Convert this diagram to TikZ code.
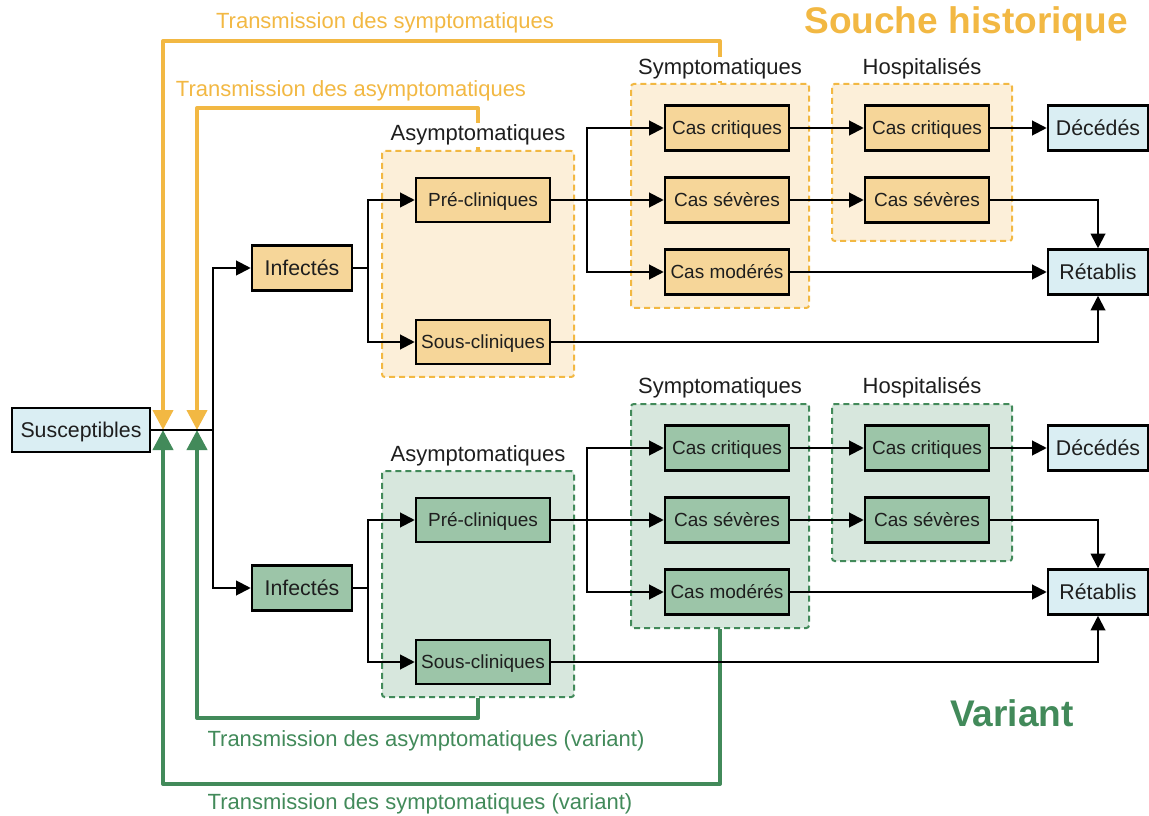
\documentclass[tikz,border=0pt]{standalone}
\usepackage{fontspec}
\setmainfont{Liberation Sans}
\usetikzlibrary{arrows.meta}
\definecolor{orangeline}{HTML}{F2B843}
\definecolor{orangefill}{HTML}{F6D699}
\definecolor{orangebg}{HTML}{FCEFD9}
\definecolor{greenline}{HTML}{428A5A}
\definecolor{greenfill}{HTML}{9CC5A8}
\definecolor{greenbg}{HTML}{D7E7DD}
\definecolor{bluefill}{HTML}{DAEEF3}
\definecolor{txt}{HTML}{1E1E1E}
\tikzset{
  box/.style={draw=black, line width=1.9pt, inner sep=0pt, text=txt, text depth=0pt},
  smallbox/.style={box, minimum width=93pt, minimum height=33.75pt, text height=10.3pt, font=\fontsize{14.25}{16}\selectfont},
  widebox/.style={box, minimum width=100.5pt, minimum height=33pt, text height=10.3pt, font=\fontsize{14.25}{16}\selectfont},
  bigbox/.style={box, minimum width=75pt, minimum height=33.75pt, text height=11.5pt, font=\fontsize{16}{18}\selectfont},
  obox/.style={fill=orangefill},
  gbox/.style={fill=greenfill},
  bbox/.style={fill=bluefill},
  grp/.style={line width=1.5pt, dash pattern=on 4.5pt off 3pt, rounded corners=2pt, inner sep=0pt},
  ogroup/.style={grp, draw=orangeline, fill=orangebg},
  ggroup/.style={grp, draw=greenline, fill=greenbg},
  glabel/.style={font=\fontsize{16.5}{18}\selectfont, text=txt, fill=white, inner sep=1pt},
  tlabel/.style={font=\fontsize{16.5}{18}\selectfont, inner sep=0pt},
  arr/.style={line width=1.5pt, draw=black, -{Triangle[length=11pt,width=11pt]}},
  otrans/.style={line width=3pt, draw=orangeline, line join=round, -{Triangle[length=15pt,width=15pt]}},
  gtrans/.style={line width=3pt, draw=greenline, line join=round, -{Triangle[length=15pt,width=15pt]}},
  titletext/.style={font=\bfseries\fontsize{27.8}{30}\selectfont, inner sep=0pt},
}
\begin{document}
\begin{tikzpicture}[x=0.75pt,y=-0.75pt]
\useasboundingbox (0,0) rectangle (1149,816);

% groups
\node[ogroup, minimum width=144pt, minimum height=169.5pt] (asym1) at (478,264) {};
\node[ogroup, minimum width=133.5pt, minimum height=168pt] (sym1) at (720,196) {};
\node[ogroup, minimum width=135pt, minimum height=117.75pt] (hosp1) at (922,162.5) {};
\node[ggroup, minimum width=144pt, minimum height=169.5pt] (asym2) at (478,584) {};
\node[ggroup, minimum width=133.5pt, minimum height=168pt] (sym2) at (720,516) {};
\node[ggroup, minimum width=135pt, minimum height=117.75pt] (hosp2) at (922,482.5) {};

% coordinates
\coordinate (jo) at (163,430);
\coordinate (ji) at (197,430);
\coordinate (split) at (213,430);
\coordinate (ot1) at (163,41);
\coordinate (ot2) at (197,108);
\coordinate (gt1) at (163,784);
\coordinate (gt2) at (197,718);

% transmission lines
\draw[otrans] (sym1.north) |- (ot1) -- (jo);
\draw[otrans] (asym1.north) |- (ot2) -- (ji);
\draw[gtrans] (sym2.south) |- (gt1) -- (jo);
\draw[gtrans] (asym2.south) |- (gt2) -- (ji);

% group labels
\node[glabel] (lasym1) at (478,135) {Asymptomatiques};
\node[glabel] (lsym1) at (720,69) {Symptomatiques};
\node[glabel] (lhosp1) at (922,69) {Hospitalisés};
\node[glabel] (lasym2) at (478,456) {Asymptomatiques};
\node[glabel] (lsym2) at (720,388) {Symptomatiques};
\node[glabel] (lhosp2) at (922,388) {Hospitalisés};

% transmission labels
\node[tlabel, text=orangeline] (t1) at (385,23) {Transmission des symptomatiques};
\node[tlabel, text=orangeline] (t2) at (351,91) {Transmission des asymptomatiques};
\node[tlabel, text=greenline] (t3) at (426,741) {Transmission des asymptomatiques (variant)};
\node[tlabel, text=greenline] (t4) at (420,804) {Transmission des symptomatiques (variant)};

% titles
\node[titletext, text=orangeline] (title1) at (966,24) {Souche historique};
\node[titletext, text=greenline] (title2) at (1012,713) {Variant};

% nodes
\node[box, bbox, minimum width=103.5pt, minimum height=33pt, text height=11.5pt, font=\fontsize{16}{18}\selectfont] (sus) at (81,430) {Susceptibles};

\node[bigbox, obox] (inf1) at (302,268) {Infectés};
\node[widebox, obox] (pre1) at (483,200) {Pré-cliniques};
\node[widebox, obox] (sous1) at (483,342) {Sous-cliniques};
\node[smallbox, obox] (crit1) at (727,128) {Cas critiques};
\node[smallbox, obox] (sev1) at (727,200) {Cas sévères};
\node[smallbox, obox] (mod1) at (727,272) {Cas modérés};
\node[smallbox, obox] (hcrit1) at (927,128) {Cas critiques};
\node[smallbox, obox] (hsev1) at (927,200) {Cas sévères};
\node[bigbox, bbox] (dec1) at (1098,128) {Décédés};
\node[bigbox, bbox] (ret1) at (1098,272) {Rétablis};

\node[bigbox, gbox] (inf2) at (302,588) {Infectés};
\node[widebox, gbox] (pre2) at (483,520) {Pré-cliniques};
\node[widebox, gbox] (sous2) at (483,662) {Sous-cliniques};
\node[smallbox, gbox] (crit2) at (727,448) {Cas critiques};
\node[smallbox, gbox] (sev2) at (727,520) {Cas sévères};
\node[smallbox, gbox] (mod2) at (727,592) {Cas modérés};
\node[smallbox, gbox] (hcrit2) at (927,448) {Cas critiques};
\node[smallbox, gbox] (hsev2) at (927,520) {Cas sévères};
\node[bigbox, bbox] (dec2) at (1098,448) {Décédés};
\node[bigbox, bbox] (ret2) at (1098,592) {Rétablis};

% connectors
\draw[line width=1.5pt] (sus.east) -- (split);
\draw[arr] (split) |- (inf1.west);
\draw[arr] (split) |- (inf2.west);

\coordinate (a1) at (368,268);
\coordinate (b1) at (587,200);
\coordinate (a2) at (368,588);
\coordinate (b2) at (587,520);

\draw[line width=1.5pt] (inf1.east) -- (a1);
\draw[arr] (a1) |- (pre1.west);
\draw[arr] (a1) |- (sous1.west);
\draw[arr] (pre1.east) -- (sev1.west);
\draw[arr] (b1) |- (crit1.west);
\draw[arr] (b1) |- (mod1.west);
\draw[arr] (crit1) -- (hcrit1);
\draw[arr] (sev1) -- (hsev1);
\draw[arr] (hcrit1) -- (dec1);
\draw[arr] (hsev1.east) -| (ret1.north);
\draw[arr] (mod1) -- (ret1);
\draw[arr] (sous1.east) -| (ret1.south);

\draw[line width=1.5pt] (inf2.east) -- (a2);
\draw[arr] (a2) |- (pre2.west);
\draw[arr] (a2) |- (sous2.west);
\draw[arr] (pre2.east) -- (sev2.west);
\draw[arr] (b2) |- (crit2.west);
\draw[arr] (b2) |- (mod2.west);
\draw[arr] (crit2) -- (hcrit2);
\draw[arr] (sev2) -- (hsev2);
\draw[arr] (hcrit2) -- (dec2);
\draw[arr] (hsev2.east) -| (ret2.north);
\draw[arr] (mod2) -- (ret2);
\draw[arr] (sous2.east) -| (ret2.south);
\end{tikzpicture}
\end{document}
